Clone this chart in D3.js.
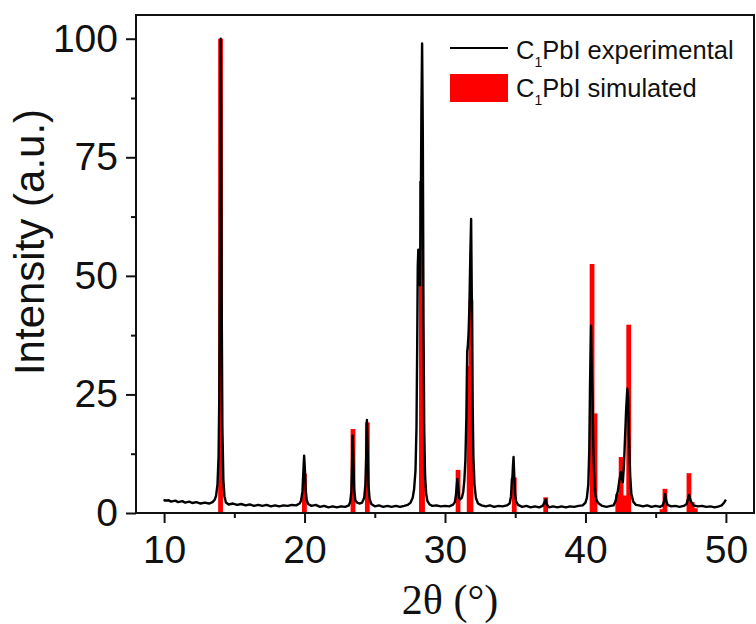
<!DOCTYPE html>
<html>
<head>
<meta charset="utf-8">
<script src="https://cdn.jsdelivr.net/npm/d3@7"></script>
<style>
  body { margin: 0; background: #fff; }
  svg { display: block; }
</style>
</head>
<body>
<div id="chart"></div>
<script>
// experimental pattern
const expAngle = [
  10.0, 10.05, 10.3, 10.5, 10.8, 11.0, 11.3, 11.5, 11.8, 12.0, 12.3, 12.6, 12.9, 13.2, 13.45,
  13.6, 13.7, 13.8, 13.88, 13.93, 13.97, 14.0, 14.03, 14.06, 14.1, 14.15, 14.22, 14.3, 14.4,
  14.6, 14.9, 15.2, 15.5, 15.8, 16.1, 16.4, 16.7, 17.0, 17.3, 17.6, 17.9, 18.2, 18.5, 18.8, 19.1, 19.4, 19.65,
  19.75, 19.85, 19.92, 19.97, 20.02, 20.08, 20.15, 20.25,
  20.5, 20.8, 21.1, 21.4, 21.7, 22.0, 22.3, 22.6, 22.9, 23.15,
  23.25, 23.33, 23.38, 23.42, 23.47, 23.53, 23.62, 23.75, 23.9, 24.1,
  24.25, 24.33, 24.39, 24.44, 24.49, 24.55, 24.63, 24.75,
  25.0, 25.3, 25.6, 25.9, 26.2, 26.5, 26.8, 27.1, 27.35, 27.55,
  27.7, 27.8, 27.9, 27.97, 28.02, 28.06, 28.1, 28.14, 28.18, 28.22, 28.27, 28.32, 28.37, 28.42, 28.47, 28.52, 28.58, 28.66, 28.75, 28.9,
  29.1, 29.4, 29.7, 30.0, 30.3, 30.55,
  30.7, 30.78, 30.84, 30.88, 30.93, 31.0, 31.08,
  31.2, 31.3, 31.38, 31.45, 31.52, 31.58, 31.62, 31.68, 31.74, 31.8, 31.86, 31.91, 31.96, 32.02, 32.1, 32.2, 32.35,
  32.6, 32.9, 33.2, 33.5, 33.8, 34.1, 34.4, 34.6,
  34.7, 34.76, 34.8, 34.84, 34.88, 34.93, 34.99, 35.07, 35.2,
  35.5, 35.8, 36.1, 36.4, 36.7, 36.95, 37.1, 37.17, 37.25, 37.4, 37.7, 38.0, 38.3, 38.6, 38.9, 39.2, 39.5, 39.8, 40.0,
  40.1, 40.2, 40.27, 40.33, 40.4, 40.45, 40.5, 40.55, 40.62, 40.7, 40.8, 40.95,
  41.2, 41.5, 41.8, 42.0, 42.15, 42.22, 42.3, 42.42, 42.52, 42.6, 42.66, 42.74, 42.82, 42.9, 42.98, 43.04, 43.1, 43.18, 43.27, 43.4, 43.6,
  43.8, 44.1, 44.4, 44.7, 45.0, 45.3, 45.5, 45.6, 45.68, 45.75, 45.85, 46.1, 46.4, 46.7, 47.0, 47.2,
  47.32, 47.38, 47.45, 47.55, 47.7, 48.0, 48.3, 48.6, 48.9, 49.2, 49.5, 49.7, 49.85, 50.0
]
const expIntensity = [
  2.9, 2.6, 2.7, 2.4, 2.6, 2.3, 2.5, 2.2, 2.4, 2.1, 2.3, 2.0, 2.2, 2.0, 2.3,
  2.8, 3.6, 6, 12, 25, 50, 77, 100, 85, 45, 18, 7, 3.5, 2.2,
  1.8, 2.0, 1.7, 1.9, 1.6, 1.8, 1.5, 1.7, 1.5, 1.7, 1.4, 1.6, 1.4, 1.6, 1.5, 1.7, 1.6, 2.0,
  2.6, 4.5, 9, 12.1, 9.5, 5, 2.8, 1.9,
  1.5, 1.7, 1.3, 1.5, 1.2, 1.4, 1.2, 1.4, 1.3, 1.6,
  2.3, 4.5, 10, 16.3, 12, 5, 2.6, 2.2, 2.0, 2.2,
  3.2, 6, 12, 19.6, 14, 6, 3, 1.9,
  1.4, 1.6, 1.3, 1.5, 1.3, 1.5, 1.3, 1.5, 1.7, 2.2,
  3.2, 5, 9, 18, 35, 52, 55.5, 54, 50, 48, 60, 85, 99, 80, 40, 18, 8, 4, 2.5, 1.8,
  1.5, 1.6, 1.4, 1.5, 1.4, 1.7,
  2.3, 3.8, 6, 7.2, 5.5, 3.2, 2.9,
  3.2, 4.5, 7, 11, 20, 34, 35, 38, 44, 54, 62, 45, 25, 12, 6, 3.2, 2.0,
  1.6, 1.4, 1.6, 1.3, 1.5, 1.4, 1.6, 2.0,
  3.5, 7, 7.6, 10, 11.8, 8, 4, 2.4, 1.7,
  1.3, 1.5, 1.2, 1.4, 1.2, 1.5, 2.3, 2.9, 1.8, 1.2, 1.4, 1.2, 1.4, 1.2, 1.4, 1.3, 1.5, 1.6, 2.2,
  3.2, 6, 13, 28, 39.5, 30, 25, 15, 8, 4, 2.6, 2.0,
  1.5, 1.3, 1.5, 1.6, 2.6, 3.7, 4.5, 7, 8.6, 7.0, 6.5, 10, 16, 22, 26.2, 24, 16, 8, 4, 2.4, 1.7,
  1.6, 1.4, 1.6, 1.3, 1.5, 1.3, 1.6, 2.5, 4.0, 2.6, 1.7, 1.4, 1.5, 1.3, 1.5, 1.9,
  3.2, 3.8, 3.0, 2.2, 1.6, 1.4, 1.5, 1.3, 1.4, 1.2, 1.4, 1.6, 2.1, 2.8
]

// simulated reflections
const simAngle = [14.02, 19.99, 23.45, 24.47, 28.32, 28.4, 30.93, 31.72, 31.85, 34.93, 37.17,
                  40.47, 40.68, 42.3, 42.54, 42.8, 43.08, 45.45, 45.66, 47.37, 47.6, 47.82]
const simIntensity = [100, 8.3, 17.7, 19.1, 70, 28, 9.1, 31, 45, 7.5, 3.3,
                      52.5, 21, 4, 11.8, 3.7, 39.7, 0.8, 5.1, 8.4, 2.3, 1.0]

const xTicks = [10, 20, 30, 40, 50]
const xMinorTicks = [15, 25, 35, 45]
const yTicks = [0, 25, 50, 75, 100]
const yMinorTicks = [12.5, 37.5, 62.5, 87.5]

const legendLabels = ["experimental", "simulated"]

function drawChart() {
    // 1. svg
    const width = 756
    const height = 624
    const margin = {top: 15, right: 2, bottom: 111, left: 136}
    const svg = d3.select("#chart").append("svg")
                  .attr("width", width)
                  .attr("height", height)
    const sans = "'Liberation Sans', Arial, sans-serif"

    // 2. scales
    const xScale = d3.scaleLinear()
                     .domain([8, 52])
                     .range([margin.left, width - margin.right])
    const yScale = d3.scaleLinear()
                     .domain([0, 105])
                     .range([height - margin.bottom, margin.top])

    // 3. simulated sticks
    const half = 0.17
    svg.append("g")
       .selectAll("rect")
       .data(simAngle.map((a, i) => ({a: a, v: simIntensity[i]})))
       .join("rect")
       .attr("x", d => xScale(d.a - half))
       .attr("width", d => xScale(d.a + half) - xScale(d.a - half))
       .attr("y", d => yScale(d.v))
       .attr("height", d => yScale(0) - yScale(d.v))
       .attr("fill", "#ff0000")

    // 4. experimental line
    const line = d3.line()
                   .x(d => xScale(d[0]))
                   .y(d => yScale(d[1]))
    svg.append("path")
       .datum(expAngle.map((a, i) => [a, expIntensity[i]]))
       .attr("d", line)
       .attr("fill", "none")
       .attr("stroke", "#000")
       .attr("stroke-width", 2.4)
       .attr("stroke-linejoin", "round")

    // 5. axes
    const xAxis = d3.axisBottom(xScale).tickValues(xTicks).tickSize(10).tickPadding(12)
    const xMinor = d3.axisBottom(xScale).tickValues(xMinorTicks).tickSize(5).tickFormat("")
    const yAxis = d3.axisLeft(yScale).tickValues(yTicks).tickSize(10).tickPadding(8)
    const yMinor = d3.axisLeft(yScale).tickValues(yMinorTicks).tickSize(5).tickFormat("")

    const bottom = height - margin.bottom
    ;[xAxis, xMinor].forEach(ax => {
        svg.append("g")
           .attr("transform", `translate(0, ${bottom})`)
           .call(ax)
           .attr("font-size", 39)
           .attr("font-family", sans)
           .call(g => g.select(".domain").remove())
           .call(g => g.selectAll("line").attr("stroke", "#111").attr("stroke-width", 2))
           .call(g => g.selectAll("text").attr("fill", "#111"))
    })
    ;[yAxis, yMinor].forEach(ax => {
        svg.append("g")
           .attr("transform", `translate(${margin.left}, 0)`)
           .call(ax)
           .attr("font-size", 39)
           .attr("font-family", sans)
           .call(g => g.select(".domain").remove())
           .call(g => g.selectAll("line").attr("stroke", "#111").attr("stroke-width", 2))
           .call(g => g.selectAll("text").attr("fill", "#111"))
    })

    // frame
    svg.append("rect")
       .attr("x", margin.left)
       .attr("y", margin.top)
       .attr("width", width - margin.left - margin.right)
       .attr("height", bottom - margin.top)
       .attr("fill", "none")
       .attr("stroke", "#111")
       .attr("stroke-width", 2)

    // 6. axis titles
    svg.append("text")
       .attr("x", 450)
       .attr("y", 614)
       .attr("text-anchor", "middle")
       .attr("font-family", "'Liberation Serif', 'Times New Roman', serif")
       .attr("font-size", 42)
       .attr("fill", "#111")
       .text("2θ (°)")
    svg.append("text")
       .attr("transform", "translate(43.5, 242) rotate(-90)")
       .attr("text-anchor", "middle")
       .attr("font-family", sans)
       .attr("font-size", 42)
       .attr("fill", "#111")
       .text("Intensity (a.u.)")

    // 7. legend
    const legend = svg.append("g")
    legend.append("line")
          .attr("x1", 450).attr("x2", 508)
          .attr("y1", 48).attr("y2", 48)
          .attr("stroke", "#000")
          .attr("stroke-width", 2)
    legend.append("rect")
          .attr("x", 450).attr("y", 74)
          .attr("width", 58).attr("height", 28)
          .attr("fill", "#ff0000")
    legendLabels.forEach((lab, i) => {
        const t = legend.append("text")
                        .attr("x", 516)
                        .attr("y", 59 + i * 38)
                        .attr("font-family", sans)
                        .attr("font-size", 25.5)
                        .attr("fill", "#111")
        t.append("tspan").text("C")
        t.append("tspan").attr("font-size", 14).attr("dy", 8).text("1")
        t.append("tspan").attr("dy", -8).text("PbI " + lab)
    })
}

drawChart()
</script>
</body>
</html>
